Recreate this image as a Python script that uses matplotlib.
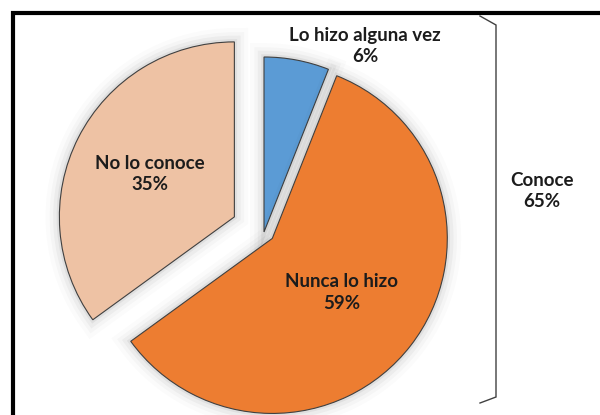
import matplotlib
matplotlib.use('Agg')
import matplotlib.pyplot as plt
import matplotlib.patheffects as pe
from matplotlib.patches import Rectangle
import numpy as np

# data
labels = ['Lo hizo alguna vez', 'Nunca lo hizo', 'No lo conoce']
values = [6, 59, 35]
colors = ['#5B9BD5', '#ED7D31', '#EEC2A4']
explode = [0.0, 0.06, 0.19]  # fraction of radius
group_label = 'Conoce'
group_value = 65

R = 175
fig = plt.figure(figsize=(6, 4.15), dpi=100)
ax = fig.add_axes([0, 0, 1, 1])

# soft shadow like the office chart
glow = [pe.Stroke(linewidth=w, foreground='black', alpha=a)
        for w, a in [(20, 0.015), (14, 0.025), (9, 0.035), (4, 0.05)]]
glow.append(pe.Normal())

wedges, _ = ax.pie(values, colors=colors, explode=[e * R for e in explode],
                   startangle=90, counterclock=False, radius=R,
                   center=(264, 183),
                   wedgeprops=dict(edgecolor='#404040', linewidth=0.8))
for w in wedges:
    w.set_path_effects(glow)

ax.set_xlim(0, 600)
ax.set_ylim(0, 415)
ax.set_aspect('equal')
ax.axis('off')

font = dict(family=['Lato', 'DejaVu Sans'], fontsize=13.5, fontweight='bold',
            color='#1c1c1c', ha='center', va='center', linespacing=1.35)

# labels inside the two big slices, along the bisector
for i in [1, 2]:
    w = wedges[i]
    ang = np.deg2rad((w.theta1 + w.theta2) / 2)
    d = 0.5 * w.r if i == 1 else 0.54 * w.r
    cx, cy = w.center
    ax.text(cx + d * np.cos(ang), cy + d * np.sin(ang),
            f'{labels[i]}\n{values[i]}%', **font)

# small slice label sits outside
ax.text(365, 415 - 46, f'{labels[0]}\n{values[0]}%', **font)

# bracket grouping the "conoce" answers
bx = [480, 496, 496, 480]
by = [415 - 16, 415 - 25, 415 - 397, 415 - 403]
ax.plot(bx, by, color='#404040', lw=1.0, solid_joinstyle='miter')
ax.text(542, 415 - 191, f'{group_label}\n{group_value}%', **font)

# chart frame (cut by the picture edge)
fig.patches.append(Rectangle((13 / 600, -0.2), 1.2, (415 - 13) / 415 + 0.2,
                             transform=fig.transFigure, fill=False,
                             edgecolor='black', linewidth=3))

plt.savefig('out.png', dpi=100)
plt.close()
